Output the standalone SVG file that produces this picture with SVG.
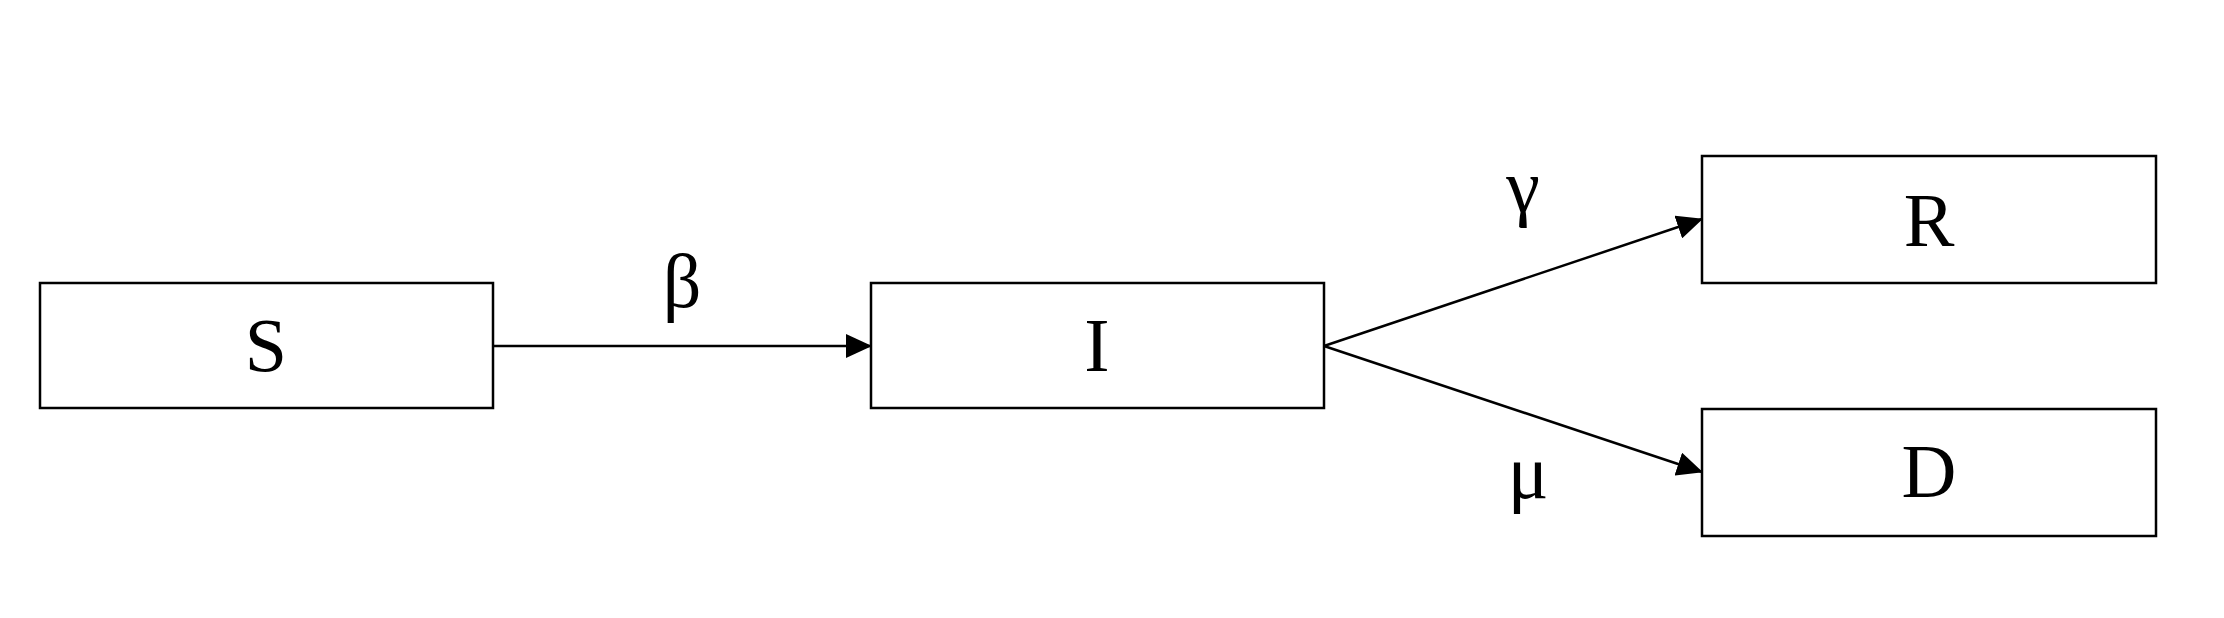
<svg xmlns="http://www.w3.org/2000/svg" width="2224" height="618" viewBox="0 0 2224 618">
<style>
.box{fill:#fff;stroke:#000;stroke-width:2.5}
.lbl{font-family:"Liberation Serif","Times New Roman",serif;font-size:76px;fill:#000;text-anchor:middle}
.edge{stroke:#000;stroke-width:2.5;fill:none}
</style>
<defs>
<marker id="arr" markerUnits="userSpaceOnUse" markerWidth="26" markerHeight="24" refX="25" refY="12" orient="auto">
<path d="M0,0 L26,12 L0,24 z" fill="#000"/>
</marker>
</defs>
<rect width="2224" height="618" fill="#fff"/>
<g id="connectors">
<line class="edge" x1="493" y1="346" x2="871" y2="346" marker-end="url(#arr)"/>
<line class="edge" x1="1324" y1="346" x2="1702" y2="219" marker-end="url(#arr)"/>
<line class="edge" x1="1324" y1="346" x2="1702" y2="472" marker-end="url(#arr)"/>
<text class="lbl" x="682" y="307">β</text>
<text class="lbl" x="1523" y="212">γ</text>
<text class="lbl" x="1528" y="498">μ</text>
</g>
<g id="S"><rect class="box" x="40" y="283" width="453" height="125"/><text class="lbl" x="266" y="371">S</text></g>
<g id="I"><rect class="box" x="871" y="283" width="453" height="125"/><text class="lbl" x="1097" y="371">I</text></g>
<g id="R"><rect class="box" x="1702" y="156" width="454" height="127"/><text class="lbl" x="1929" y="246">R</text></g>
<g id="D"><rect class="box" x="1702" y="409" width="454" height="127"/><text class="lbl" x="1929" y="497">D</text></g>
</svg>
